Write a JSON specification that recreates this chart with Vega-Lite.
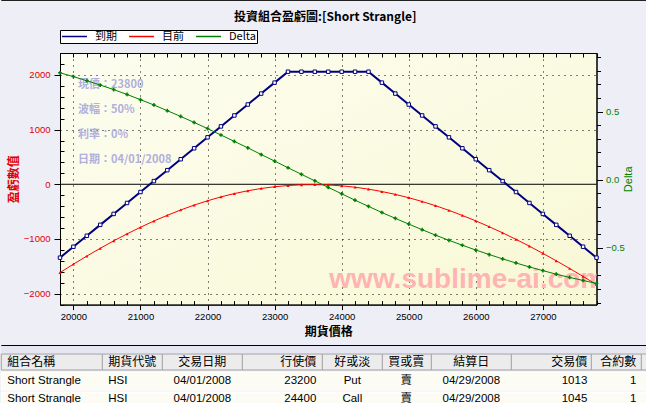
{
"$schema":"https://vega.github.io/schema/vega-lite/v6.json",
"background":"#eeeef7",
"padding":{"left":0,"top":0,"right":0,"bottom":0},
"config":{"font":"Liberation Sans","view":{"stroke":null}},
"datasets":{
"curve":[
{"s":19800,"exp":-1342,"cur":-1615,"delta":0.784},
{"s":20000,"exp":-1142,"cur":-1461,"delta":0.756},
{"s":20200,"exp":-942,"cur":-1313,"delta":0.726},
{"s":20400,"exp":-742,"cur":-1171,"delta":0.694},
{"s":20600,"exp":-542,"cur":-1035,"delta":0.661},
{"s":20800,"exp":-342,"cur":-907,"delta":0.625},
{"s":21000,"exp":-142,"cur":-786,"delta":0.587},
{"s":21200,"exp":58,"cur":-672,"delta":0.548},
{"s":21400,"exp":258,"cur":-567,"delta":0.506},
{"s":21600,"exp":458,"cur":-470,"delta":0.464},
{"s":21800,"exp":658,"cur":-381,"delta":0.420},
{"s":22000,"exp":858,"cur":-302,"delta":0.375},
{"s":22200,"exp":1058,"cur":-231,"delta":0.328},
{"s":22400,"exp":1258,"cur":-170,"delta":0.281},
{"s":22600,"exp":1458,"cur":-119,"delta":0.234},
{"s":22800,"exp":1658,"cur":-77,"delta":0.185},
{"s":23000,"exp":1858,"cur":-45,"delta":0.137},
{"s":23200,"exp":2058,"cur":-23,"delta":0.088},
{"s":23400,"exp":2058,"cur":-10,"delta":0.040},
{"s":23600,"exp":2058,"cur":-7,"delta":-0.008},
{"s":23800,"exp":2058,"cur":-13,"delta":-0.056},
{"s":24000,"exp":2058,"cur":-29,"delta":-0.103},
{"s":24200,"exp":2058,"cur":-54,"delta":-0.150},
{"s":24400,"exp":2058,"cur":-89,"delta":-0.195},
{"s":24600,"exp":1858,"cur":-133,"delta":-0.240},
{"s":24800,"exp":1658,"cur":-185,"delta":-0.283},
{"s":25000,"exp":1458,"cur":-246,"delta":-0.325},
{"s":25200,"exp":1258,"cur":-315,"delta":-0.366},
{"s":25400,"exp":1058,"cur":-392,"delta":-0.406},
{"s":25600,"exp":858,"cur":-477,"delta":-0.444},
{"s":25800,"exp":658,"cur":-570,"delta":-0.480},
{"s":26000,"exp":458,"cur":-669,"delta":-0.515},
{"s":26200,"exp":258,"cur":-776,"delta":-0.548},
{"s":26400,"exp":58,"cur":-888,"delta":-0.580},
{"s":26600,"exp":-142,"cur":-1008,"delta":-0.610},
{"s":26800,"exp":-342,"cur":-1132,"delta":-0.639},
{"s":27000,"exp":-542,"cur":-1263,"delta":-0.666},
{"s":27200,"exp":-742,"cur":-1399,"delta":-0.692},
{"s":27400,"exp":-942,"cur":-1540,"delta":-0.716},
{"s":27600,"exp":-1142,"cur":-1685,"delta":-0.738},
{"s":27800,"exp":-1342,"cur":-1835,"delta":-0.760}
],
"tbl":[
{"r":0,"c":0,"t":"組合名稱"},{"r":0,"c":1,"t":"期貨代號"},{"r":0,"c":2,"t":"交易日期"},{"r":0,"c":3,"t":"行使價"},{"r":0,"c":4,"t":"好或淡"},{"r":0,"c":5,"t":"買或賣"},{"r":0,"c":6,"t":"結算日"},{"r":0,"c":7,"t":"交易價"},{"r":0,"c":8,"t":"合約數"},
{"r":1,"c":0,"t":"Short Strangle"},{"r":1,"c":1,"t":"HSI"},{"r":1,"c":2,"t":"04/01/2008"},{"r":1,"c":3,"t":"23200"},{"r":1,"c":4,"t":"Put"},{"r":1,"c":5,"t":"賣"},{"r":1,"c":6,"t":"04/29/2008"},{"r":1,"c":7,"t":"1013"},{"r":1,"c":8,"t":"1"},
{"r":2,"c":0,"t":"Short Strangle"},{"r":2,"c":1,"t":"HSI"},{"r":2,"c":2,"t":"04/01/2008"},{"r":2,"c":3,"t":"24400"},{"r":2,"c":4,"t":"Call"},{"r":2,"c":5,"t":"賣"},{"r":2,"c":6,"t":"04/29/2008"},{"r":2,"c":7,"t":"1045"},{"r":2,"c":8,"t":"1"}
],
"cols":[{"b":1},{"b":2},{"b":3},{"b":4},{"b":5},{"b":6},{"b":7},{"b":8},{"b":9}]
},
"concat":[
{"width":587.3,"height":1,"data":{"values":[{}]},"mark":{"type":"rect","color":"#202020"},
 "encoding":{"x":{"datum":0,"type":"quantitative","scale":{"domain":[0,10],"range":[-58.7,587.3]},"axis":null},"x2":{"datum":10}}},
{
"concat":[
{
"width":536.5,"height":251.6,
"title":{"text":"投資組合盈虧圖:[Short Strangle]","font":"Noto Sans CJK TC","fontSize":12,"fontWeight":"bold","color":"black","offset":6,"dx":-3},
"view":{"fill":{"gradient":"linear","x1":0,"y1":0,"x2":1,"y2":1,"stops":[{"offset":0,"color":"#fdfdf0"},{"offset":1,"color":"#f8f8d5"}]},"stroke":"black","strokeWidth":1},
"layer":[
{"data":{"values":[{}]},"mark":{"type":"text","text":"www.sublime-ai.com","font":"Liberation Sans","fontSize":28,"fontWeight":"bold","color":"#ffb4b4","align":"left","baseline":"middle","clip":true},
 "encoding":{"x":{"datum":23816,"type":"quantitative","scale":{"domain":[19800,27800],"nice":false},"axis":null},"y":{"datum":-1758,"type":"quantitative","scale":{"domain":[-2200,2400],"nice":false},"axis":null}}},
{"data":{"values":[{}]},"mark":{"type":"text","text":["現價：23800","波幅：50%","利率：0%","日期：04/01/2008"],"font":"Noto Sans CJK TC","fontSize":11,"fontWeight":"bold","color":"#b0b0dc","align":"left","baseline":"middle","lineHeight":25},
 "encoding":{"x":{"datum":20070,"type":"quantitative","scale":{"domain":[19800,27800],"nice":false},"axis":null},"y":{"datum":1815,"type":"quantitative","scale":{"domain":[-2200,2400],"nice":false},"axis":null}}},
{"data":{"values":[{}]},"mark":{"type":"rule","color":"black","strokeWidth":1},
 "encoding":{"y":{"datum":0,"type":"quantitative","scale":{"domain":[-2200,2400],"nice":false},"axis":null}}},
{"data":{"name":"curve"},
 "mark":{"type":"line","strokeWidth":2,"point":{"shape":"square","filled":false,"fill":"white","size":12,"strokeWidth":1}},
 "encoding":{
  "x":{"field":"s","type":"quantitative","scale":{"domain":[19800,27800],"nice":false},"axis":{"orient":"bottom","values":[19800,20000,20200,20400,20600,20800,21000,21200,21400,21600,21800,22000,22200,22400,22600,22800,23000,23200,23400,23600,23800,24000,24200,24400,24600,24800,25000,25200,25400,25600,25800,26000,26200,26400,26600,26800,27000,27200,27400,27600,27800],"format":"d","labelExpr":"datum.value % 1000 === 0 ? datum.label : ''","labelFont":"Liberation Sans","labelFontSize":9.5,"labelColor":"black","labelPadding":2,"labelOverlap":false,"labelFlush":false,"domainColor":"black","tickColor":"black","tickSize":{"condition":{"test":"datum.value % 1000 === 0","value":5},"value":-4},"grid":true,"gridColor":"black","gridDash":[1,5],"gridOpacity":{"condition":{"test":"datum.value % 1000 === 0","value":1},"value":0},"title":"期貨價格","titleFont":"Noto Sans CJK TC","titleFontSize":12,"titleFontWeight":"bold","titleColor":"black","titlePadding":5}},
  "y":{"field":"exp","type":"quantitative","scale":{"domain":[-2200,2400],"nice":false},"axis":{"orient":"left","values":[-2200,-2000,-1800,-1600,-1400,-1200,-1000,-800,-600,-400,-200,0,200,400,600,800,1000,1200,1400,1600,1800,2000,2200,2400],"format":"d","labelExpr":"datum.value % 1000 === 0 ? datum.label : ''","labelFont":"Liberation Sans","labelFontSize":9.5,"labelColor":"#e00000","labelPadding":4,"labelOverlap":false,"labelFlush":false,"domainColor":"black","tickColor":"black","tickSize":{"condition":{"test":"datum.value % 1000 === 0","value":6},"value":-4},"grid":true,"gridColor":"black","gridDash":[1,5],"gridOpacity":{"condition":{"test":"datum.value % 1000 === 0 && datum.value !== 0","value":1},"value":0},"title":"盈虧數值","titleFont":"Noto Sans CJK TC","titleFontSize":12,"titleFontWeight":"bold","titleColor":"#e00000","titlePadding":3}},
  "color":{"datum":"到期","scale":{"domain":["到期","目前","Delta"],"range":["#000080","#ff0000","#008000"]},"legend":{"orient":"top","direction":"horizontal","title":null,"offset":9,"padding":1,"strokeColor":"black","fillColor":"white","symbolType":"stroke","symbolSize":625,"symbolStrokeWidth":1.5,"clipHeight":11,"labelFont":"Noto Sans CJK TC","labelFontSize":11,"labelColor":"black","labelOffset":7,"columnPadding":11}}
 }},
{"data":{"name":"curve"},
 "mark":{"type":"line","strokeWidth":1,"point":{"shape":"triangle-up","filled":true,"size":10}},
 "encoding":{"x":{"field":"s","type":"quantitative","scale":{"domain":[19800,27800],"nice":false},"axis":null},"y":{"field":"cur","type":"quantitative","scale":{"domain":[-2200,2400],"nice":false},"axis":null},"color":{"datum":"目前"}}},
{"data":{"name":"curve"},
 "mark":{"type":"line","strokeWidth":1,"point":{"shape":"cross","filled":true,"size":14}},
 "encoding":{
  "x":{"field":"s","type":"quantitative","scale":{"domain":[19800,27800],"nice":false},"axis":{"orient":"top","values":[19800,20000,20200,20400,20600,20800,21000,21200,21400,21600,21800,22000,22200,22400,22600,22800,23000,23200,23400,23600,23800,24000,24200,24400,24600,24800,25000,25200,25400,25600,25800,26000,26200,26400,26600,26800,27000,27200,27400,27600,27800],"labels":false,"domain":false,"grid":false,"ticks":true,"tickColor":"black","tickSize":-4,"title":null}},
  "y":{"field":"delta","type":"quantitative","scale":{"domain":[-0.915,0.929],"nice":false},"axis":{"orient":"right","values":[-0.9,-0.8,-0.7,-0.6,-0.5,-0.4,-0.3,-0.2,-0.1,0,0.1,0.2,0.3,0.4,0.5,0.6,0.7,0.8,0.9],"labelExpr":"datum.value === 0.5 || datum.value === -0.5 || datum.value === 0 ? format(datum.value, '.1f') : ''","labelFont":"Liberation Sans","labelFontSize":9.5,"labelColor":"#008000","labelPadding":3,"labelOverlap":false,"labelFlush":false,"domainColor":"black","tickColor":"black","tickSize":{"condition":{"test":"datum.value === 0.5 || datum.value === -0.5 || datum.value === 0","value":6},"value":4},"grid":false,"title":"Delta","titleFont":"Liberation Sans","titleFontSize":11,"titleFontWeight":"normal","titleColor":"#008000","titleAngle":270,"titlePadding":9}},
  "color":{"datum":"Delta"}
 }}
],
"resolve":{"scale":{"y":"independent"},"axis":{"x":"independent","y":"independent"}}
},
{
"concat":[
{"width":587.3,"height":1,"data":{"values":[{}]},"mark":{"type":"rect","color":"black"},
 "encoding":{"x":{"datum":0,"type":"quantitative","scale":{"domain":[0,10],"range":[-58.7,587.3]},"axis":null},"x2":{"datum":10}}},
{"width":587.3,"height":7,"data":{"values":[{}]},"mark":{"type":"rect","color":"#e6e6f2"},
 "encoding":{"x":{"datum":0,"type":"quantitative","scale":{"domain":[0,10],"range":[-58.7,587.3]},"axis":null},"x2":{"datum":10}}},
{"width":587.3,"height":16,
 "layer":[
  {"data":{"values":[{}]},"mark":{"type":"rect","fill":"#ececec","stroke":"#a0a0a0","strokeWidth":1},
   "encoding":{"x":{"datum":0,"type":"quantitative","scale":{"domain":[0,10],"range":[-58.7,587.3]},"axis":null},"x2":{"datum":10}}},
  {"data":{"name":"cols"},"mark":{"type":"rule","color":"#a0a0a0"},"encoding":{"x":{"field":"b","type":"quantitative","scale":{"domain":[1,2,3,4,5,6,7,8,9],"range":[42.3,102.3,182.3,262.3,322.3,371.3,451.3,531.3,581.3]},"axis":null}}},
  {"data":{"name":"tbl"},"transform":[{"filter":"datum.r === 0 && datum.c <= 1"}],"mark":{"type":"text","align":"left","baseline":"middle","font":"Noto Sans CJK TC","fontSize":12,"color":"black"},"encoding":{"x":{"field":"c","type":"quantitative","scale":{"domain":[0,1],"range":[-52.7,48.3]},"axis":null},"text":{"field":"t"}}},
  {"data":{"name":"tbl"},"transform":[{"filter":"datum.r === 0 && (datum.c === 2 || datum.c === 4 || datum.c === 5 || datum.c === 6)"}],"mark":{"type":"text","align":"center","baseline":"middle","font":"Noto Sans CJK TC","fontSize":12,"color":"black"},"encoding":{"x":{"field":"c","type":"quantitative","scale":{"domain":[2,4,5,6],"range":[142.3,292.3,346.3,411.3]},"axis":null},"text":{"field":"t"}}},
  {"data":{"name":"tbl"},"transform":[{"filter":"datum.r === 0 && (datum.c === 3 || datum.c === 7 || datum.c === 8)"}],"mark":{"type":"text","align":"right","baseline":"middle","font":"Noto Sans CJK TC","fontSize":12,"color":"black"},"encoding":{"x":{"field":"c","type":"quantitative","scale":{"domain":[3,7,8],"range":[256.3,527.3,576.3]},"axis":null},"text":{"field":"t"}}}
 ],
 "resolve":{"scale":{"x":"independent"}}},
{"width":587.3,"height":18,
 "layer":[
  {"data":{"values":[{}]},"mark":{"type":"rect","fill":"#fcfcf4","stroke":"white","strokeWidth":1},
   "encoding":{"x":{"datum":0,"type":"quantitative","scale":{"domain":[0,10],"range":[-58.7,587.3]},"axis":null},"x2":{"datum":10}}},
  {"data":{"name":"tbl"},"transform":[{"filter":"datum.r === 1 && datum.c <= 1"}],"mark":{"type":"text","align":"left","baseline":"middle","font":"Liberation Sans, Noto Sans CJK TC","fontSize":11.5,"color":"black"},"encoding":{"x":{"field":"c","type":"quantitative","scale":{"domain":[0,1],"range":[-52.7,48.3]},"axis":null},"text":{"field":"t"}}},
  {"data":{"name":"tbl"},"transform":[{"filter":"datum.r === 1 && (datum.c === 2 || datum.c === 4 || datum.c === 5 || datum.c === 6)"}],"mark":{"type":"text","align":"center","baseline":"middle","font":"Liberation Sans, Noto Sans CJK TC","fontSize":11.5,"color":"black"},"encoding":{"x":{"field":"c","type":"quantitative","scale":{"domain":[2,4,5,6],"range":[142.3,292.3,346.3,411.3]},"axis":null},"text":{"field":"t"}}},
  {"data":{"name":"tbl"},"transform":[{"filter":"datum.r === 1 && (datum.c === 3 || datum.c === 7 || datum.c === 8)"}],"mark":{"type":"text","align":"right","baseline":"middle","font":"Liberation Sans, Noto Sans CJK TC","fontSize":11.5,"color":"black"},"encoding":{"x":{"field":"c","type":"quantitative","scale":{"domain":[3,7,8],"range":[256.3,527.3,576.3]},"axis":null},"text":{"field":"t"}}}
 ],
 "resolve":{"scale":{"x":"independent"}}},
{"width":587.3,"height":14,
 "layer":[
  {"data":{"values":[{}]},"mark":{"type":"rect","fill":"#fcfcf4","stroke":"white","strokeWidth":1},
   "encoding":{"x":{"datum":0,"type":"quantitative","scale":{"domain":[0,10],"range":[-58.7,587.3]},"axis":null},"x2":{"datum":10}}},
  {"data":{"name":"tbl"},"transform":[{"filter":"datum.r === 2 && datum.c <= 1"}],"mark":{"type":"text","align":"left","baseline":"middle","font":"Liberation Sans, Noto Sans CJK TC","fontSize":11.5,"color":"black"},"encoding":{"x":{"field":"c","type":"quantitative","scale":{"domain":[0,1],"range":[-52.7,48.3]},"axis":null},"text":{"field":"t"}}},
  {"data":{"name":"tbl"},"transform":[{"filter":"datum.r === 2 && (datum.c === 2 || datum.c === 4 || datum.c === 5 || datum.c === 6)"}],"mark":{"type":"text","align":"center","baseline":"middle","font":"Liberation Sans, Noto Sans CJK TC","fontSize":11.5,"color":"black"},"encoding":{"x":{"field":"c","type":"quantitative","scale":{"domain":[2,4,5,6],"range":[142.3,292.3,346.3,411.3]},"axis":null},"text":{"field":"t"}}},
  {"data":{"name":"tbl"},"transform":[{"filter":"datum.r === 2 && (datum.c === 3 || datum.c === 7 || datum.c === 8)"}],"mark":{"type":"text","align":"right","baseline":"middle","font":"Liberation Sans, Noto Sans CJK TC","fontSize":11.5,"color":"black"},"encoding":{"x":{"field":"c","type":"quantitative","scale":{"domain":[3,7,8],"range":[256.3,527.3,576.3]},"axis":null},"text":{"field":"t"}}}
 ],
 "resolve":{"scale":{"x":"independent"}}}
],
"columns":1,"spacing":0
}
],
"columns":1,"spacing":7,
"resolve":{"scale":{"color":"independent"},"legend":{"color":"independent"}}
}
],
"columns":1,"spacing":9,
"resolve":{"scale":{"color":"independent"},"legend":{"color":"independent"}}
}
